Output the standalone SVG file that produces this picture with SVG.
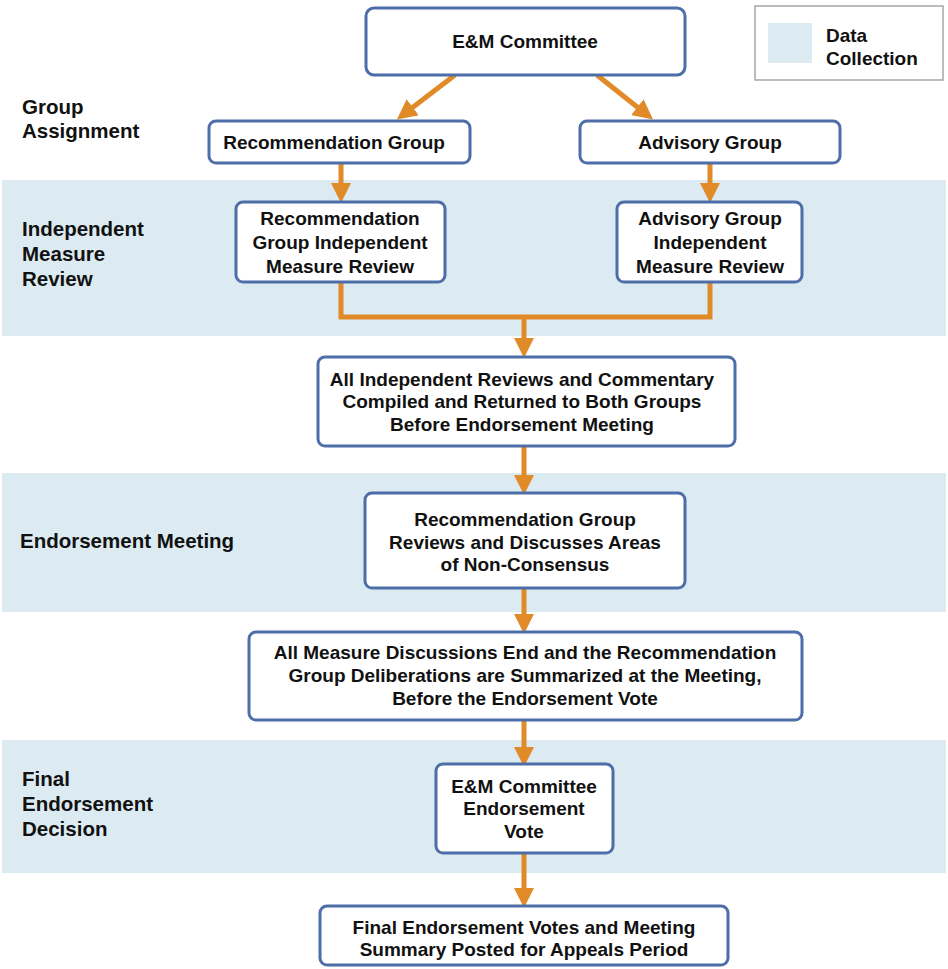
<svg xmlns="http://www.w3.org/2000/svg" width="948" height="969" viewBox="0 0 948 969">
<defs>
<marker id="ah" markerWidth="4" markerHeight="4" refX="2.2" refY="2" orient="auto" markerUnits="strokeWidth">
<path d="M0,0 L4,2 L0,4 z" fill="#e08a28"/>
</marker>
</defs>
<style>
.band{fill:#dceaf1}
.box{fill:#ffffff;stroke:#4d6ea8;stroke-width:3}
.t{font-family:"Liberation Sans",Arial,sans-serif;font-weight:bold;font-size:19px;fill:#111;text-anchor:middle}
.lbl{font-family:"Liberation Sans",Arial,sans-serif;font-weight:bold;font-size:20.5px;fill:#111}
.leg{font-family:"Liberation Sans",Arial,sans-serif;font-weight:bold;font-size:19px;fill:#111}
.c{fill:none;stroke:#e08a28;stroke-width:5}
</style>
<rect width="948" height="969" fill="#ffffff"/>
<g id="bands">
<rect class="band" x="2" y="180" width="944" height="156"/>
<rect class="band" x="2" y="473" width="944" height="139"/>
<rect class="band" x="2" y="740" width="944" height="133"/>
</g>
<g id="legend">
<rect x="755" y="6" width="188" height="74" fill="#ffffff" stroke="#a6a6a6" stroke-width="1.5"/>
<rect x="768" y="23" width="44" height="40" class="band"/>
<text class="leg" x="826" y="42">Data</text>
<text class="leg" x="826" y="65">Collection</text>
</g>
<g id="stage-labels">
<text class="lbl" x="22" y="114">Group</text>
<text class="lbl" x="22" y="138">Assignment</text>
<text class="lbl" x="22" y="236">Independent</text>
<text class="lbl" x="22" y="261">Measure</text>
<text class="lbl" x="22" y="286">Review</text>
<text class="lbl" x="20" y="548">Endorsement Meeting</text>
<text class="lbl" x="22" y="786">Final</text>
<text class="lbl" x="22" y="811">Endorsement</text>
<text class="lbl" x="22" y="836">Decision</text>
</g>
<g id="connectors">
<line class="c" x1="455" y1="75" x2="404" y2="114" marker-end="url(#ah)"/>
<line class="c" x1="597" y1="75" x2="646" y2="114" marker-end="url(#ah)"/>
<line class="c" x1="341" y1="163" x2="341" y2="194" marker-end="url(#ah)"/>
<line class="c" x1="710" y1="163" x2="710" y2="194" marker-end="url(#ah)"/>
<polyline class="c" points="341,282 341,317 710,317 710,282"/>
<line class="c" x1="524" y1="317" x2="524" y2="349" marker-end="url(#ah)"/>
<line class="c" x1="524" y1="446" x2="524" y2="486" marker-end="url(#ah)"/>
<line class="c" x1="524" y1="588" x2="524" y2="625" marker-end="url(#ah)"/>
<line class="c" x1="524" y1="720" x2="524" y2="758" marker-end="url(#ah)"/>
<line class="c" x1="524" y1="853" x2="524" y2="899" marker-end="url(#ah)"/>
</g>
<g id="em-committee">
<rect class="box" x="366" y="8" width="319" height="67" rx="8"/>
<text class="t" x="525" y="48">E&amp;M Committee</text>
</g>
<g id="recommendation-group">
<rect class="box" x="209" y="121" width="261" height="42" rx="7"/>
<text class="t" x="334" y="149">Recommendation Group</text>
</g>
<g id="advisory-group">
<rect class="box" x="580" y="121" width="260" height="42" rx="7"/>
<text class="t" x="710" y="149">Advisory Group</text>
</g>
<g id="rec-independent-review">
<rect class="box" x="236" y="202" width="209" height="80" rx="7"/>
<text class="t" x="340" y="225">Recommendation</text>
<text class="t" x="340" y="249">Group Independent</text>
<text class="t" x="340" y="273">Measure Review</text>
</g>
<g id="adv-independent-review">
<rect class="box" x="617" y="202" width="185" height="80" rx="7"/>
<text class="t" x="710" y="225">Advisory Group</text>
<text class="t" x="710" y="249">Independent</text>
<text class="t" x="710" y="273">Measure Review</text>
</g>
<g id="compiled-reviews">
<rect class="box" x="318" y="357" width="417" height="89" rx="7"/>
<text class="t" x="522" y="386">All Independent Reviews and Commentary</text>
<text class="t" x="522" y="408">Compiled and Returned to Both Groups</text>
<text class="t" x="522" y="431">Before Endorsement Meeting</text>
</g>
<g id="rec-discusses">
<rect class="box" x="365" y="493" width="320" height="95" rx="7"/>
<text class="t" x="525" y="526">Recommendation Group</text>
<text class="t" x="525" y="549">Reviews and Discusses Areas</text>
<text class="t" x="525" y="571">of Non-Consensus</text>
</g>
<g id="discussions-end">
<rect class="box" x="249" y="632" width="553" height="88" rx="7"/>
<text class="t" x="525" y="659">All Measure Discussions End and the Recommendation</text>
<text class="t" x="525" y="682">Group Deliberations are Summarized at the Meeting,</text>
<text class="t" x="525" y="705">Before the Endorsement Vote</text>
</g>
<g id="endorsement-vote">
<rect class="box" x="436" y="764" width="177" height="89" rx="7"/>
<text class="t" x="524" y="793">E&amp;M Committee</text>
<text class="t" x="524" y="815">Endorsement</text>
<text class="t" x="524" y="838">Vote</text>
</g>
<g id="final-posted">
<rect class="box" x="320" y="906" width="408" height="59" rx="7"/>
<text class="t" x="524" y="934">Final Endorsement Votes and Meeting</text>
<text class="t" x="524" y="956">Summary Posted for Appeals Period</text>
</g>
</svg>
